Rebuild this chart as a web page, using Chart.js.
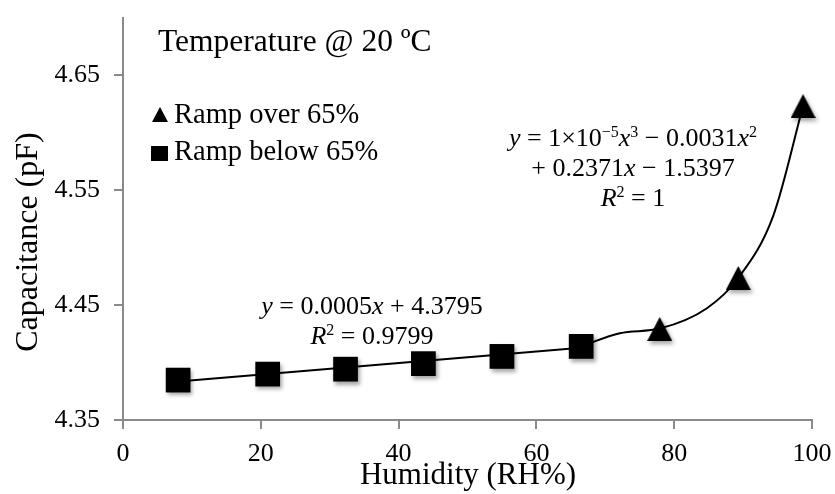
<!DOCTYPE html>
<html>
<head>
<meta charset="utf-8">
<script src="https://cdn.jsdelivr.net/npm/chart.js@4.4.1/dist/chart.umd.min.js"></script>
<style>
  html, body { margin: 0; padding: 0; background: #fff; }
</style>
</head>
<body>
<canvas id="chart" width="835" height="494"></canvas>
<script>
// ramp below 65% (squares)
var belowX = [8.0, 21.0, 32.3, 43.6, 55.0, 66.5];
var belowY = [4.3847, 4.3899, 4.3942, 4.3990, 4.4053, 4.4140];
// ramp over 65% (triangles)
var overX = [77.9, 89.3, 98.7];
var overY = [4.4292, 4.4735, 4.6230];
// trend lines
var linFitX = [8.0, 66.5];
var linFitY = [4.3835, 4.4128];
var polyFitX = [66.5, 72.1, 77.9, 84.7, 89.3, 94.4, 98.7];
var polyFitY = [4.4140, 4.4255, 4.4295, 4.4470, 4.4735, 4.5280, 4.6230];
var yTicks = [4.35, 4.45, 4.55, 4.65];

var serif = '"Liberation Serif", "Times New Roman", serif';
var axisGrey = '#8a8a8a';

function toPoints(xs, ys) {
  var pts = [];
  for (var i = 0; i < xs.length; i++) pts.push({ x: xs[i], y: ys[i] });
  return pts;
}

function makeTriangle(w, h) {
  var c = document.createElement('canvas');
  c.width = w; c.height = h;
  var g = c.getContext('2d');
  g.fillStyle = '#000';
  g.beginPath();
  g.moveTo(w / 2, 0);
  g.lineTo(w, h);
  g.lineTo(0, h);
  g.closePath();
  g.fill();
  return c;
}

// text with italic / superscript runs, centred on cx
function drawRich(ctx, parts, cx, y, size) {
  function font(st) {
    var sz = (st == 's') ? Math.round(size * 0.62) : size;
    return (st == 'i' ? 'italic ' : '') + sz + 'px ' + serif;
  }
  var w = 0;
  parts.forEach(function (p) { ctx.font = font(p[1]); w += ctx.measureText(p[0]).width; });
  var x = cx - w / 2;
  ctx.textAlign = 'left';
  ctx.textBaseline = 'alphabetic';
  parts.forEach(function (p) {
    ctx.font = font(p[1]);
    var dy = (p[1] == 's') ? -size * 0.33 : 0;
    ctx.fillText(p[0], x, y + dy);
    x += ctx.measureText(p[0]).width;
  });
}

var markerShadow = {
  id: 'markerShadow',
  beforeDatasetDraw: function (chart, args) {
    var ctx = chart.ctx;
    ctx.save();
    if (args.index < 2) {
      ctx.shadowColor = 'rgba(0,0,0,0.35)';
      ctx.shadowBlur = 4;
      ctx.shadowOffsetX = 2;
      ctx.shadowOffsetY = 3;
    }
  },
  afterDatasetDraw: function (chart) {
    chart.ctx.restore();
  }
};

var labels = {
  id: 'labels',
  afterDraw: function (chart) {
    var ctx = chart.ctx;
    ctx.save();
    ctx.fillStyle = '#000';

    // axis titles
    ctx.font = '31px ' + serif;
    ctx.textAlign = 'center';
    ctx.textBaseline = 'alphabetic';
    ctx.fillText('Humidity (RH%)', 468, 484);
    ctx.save();
    ctx.font = '32px ' + serif;
    ctx.translate(37, 242);
    ctx.rotate(-Math.PI / 2);
    ctx.fillText('Capacitance (pF)', 0, 0);
    ctx.restore();

    // header
    ctx.textAlign = 'left';
    ctx.font = '31.5px ' + serif;
    ctx.fillText('Temperature @ 20 \u00BAC', 158, 51);

    // legend
    ctx.font = '28.5px ' + serif;
    ctx.fillText('Ramp over 65%', 174, 123);
    ctx.fillText('Ramp below 65%', 174, 160);
    ctx.beginPath();
    ctx.moveTo(160, 107);
    ctx.lineTo(168, 122);
    ctx.lineTo(152, 122);
    ctx.closePath();
    ctx.fill();
    ctx.fillRect(151, 146, 17, 15);

    // fit equations
    var fs = 26;
    drawRich(ctx, [['y', 'i'], [' = 0.0005', 'n'], ['x', 'i'], [' + 4.3795', 'n']], 372, 314, fs);
    drawRich(ctx, [['R', 'i'], ['2', 's'], [' = 0.9799', 'n']], 372, 344, fs);
    drawRich(ctx, [['y', 'i'], [' = 1\u00D710', 'n'], ['\u22125', 's'], ['x', 'i'], ['3', 's'],
                   [' \u2212 0.0031', 'n'], ['x', 'i'], ['2', 's']], 633, 146, fs);
    drawRich(ctx, [['+ 0.2371', 'n'], ['x', 'i'], [' \u2212 1.5397', 'n']], 633, 176, fs);
    drawRich(ctx, [['R', 'i'], ['2', 's'], [' = 1', 'n']], 633, 206, fs);
    ctx.restore();
  }
};

var mChart = new Chart(document.getElementById('chart'), {
  type: 'line',
  data: {
    datasets: [{
      label: 'Ramp over 65%',
      data: toPoints(overX, overY),
      showLine: false,
      pointStyle: makeTriangle(25, 24),
      pointRadius: 12,
      backgroundColor: '#000',
      borderColor: '#000',
      clip: false,
      order: 1
    }, {
      label: 'Ramp below 65%',
      data: toPoints(belowX, belowY),
      showLine: false,
      pointStyle: 'rect',
      pointRadius: 17.5,
      pointBorderWidth: 0,
      backgroundColor: '#000',
      borderColor: '#000',
      clip: false,
      order: 1
    }, {
      label: 'linear fit',
      data: toPoints(linFitX, linFitY),
      borderColor: '#000',
      borderWidth: 2,
      pointRadius: 0,
      fill: false,
      order: 2
    }, {
      label: 'poly fit',
      data: toPoints(polyFitX, polyFitY),
      borderColor: '#000',
      borderWidth: 2,
      pointRadius: 0,
      cubicInterpolationMode: 'monotone',
      fill: false,
      order: 2
    }]
  },
  options: {
    responsive: false,
    animation: false,
    devicePixelRatio: 1,
    layout: { padding: { top: 13, right: 23, left: 0, bottom: 0 } },
    plugins: {
      legend: { display: false },
      tooltip: { enabled: false }
    },
    scales: {
      x: {
        type: 'linear',
        min: 0,
        max: 100,
        afterFit: function (scale) {
          scale.height = 74;
          scale.paddingLeft = 0;
          scale.paddingRight = 0;
        },
        border: { color: axisGrey, width: 2 },
        grid: { drawOnChartArea: false, drawTicks: true, tickLength: 9, color: axisGrey, lineWidth: 2 },
        ticks: {
          stepSize: 20,
          padding: 10,
          color: '#000',
          font: { family: serif, size: 26 },
          maxRotation: 0
        }
      },
      y: {
        type: 'linear',
        min: 4.35,
        max: 4.70,
        afterFit: function (scale) {
          scale.width = 123;
          scale.paddingTop = 0;
          scale.paddingBottom = 0;
        },
        afterBuildTicks: function (scale) {
          scale.ticks = yTicks.map(function (v) { return { value: v }; });
        },
        border: { color: axisGrey, width: 2 },
        grid: { drawOnChartArea: false, drawTicks: true, tickLength: 9, color: axisGrey, lineWidth: 2 },
        ticks: {
          padding: 14,
          color: '#000',
          // small lineHeight so the label box does not push the plot top down
          font: { family: serif, size: 26, lineHeight: 0.5 },
          callback: function (v) { return Number(v).toFixed(2); }
        }
      }
    }
  },
  plugins: [markerShadow, labels]
});
</script>
</body>
</html>
